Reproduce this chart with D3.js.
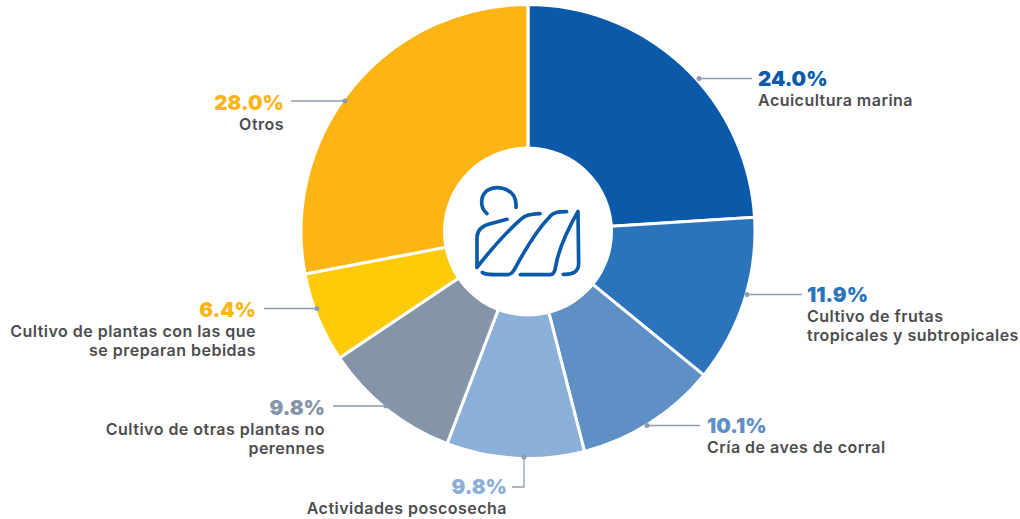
<!DOCTYPE html>
<meta charset="utf-8">
<style>
html, body { margin: 0; padding: 0; background: #fff; }
svg { display: block; }
text { font-family: 'Inter', sans-serif; }
.pct { font-size: 20.5px; font-weight: 900; }
.name { font-size: 16px; font-weight: 600; fill: #4d4d4f; letter-spacing: 0.48px; }
.leader { fill: none; stroke: #8e9db3; stroke-width: 1.3; }
.icon path { fill: none; stroke: #0b5aa9; stroke-width: 11; stroke-linecap: round; stroke-linejoin: round; }
</style>
<body>
<div id="chart"></div>
<script src="https://cdn.jsdelivr.net/npm/d3@7"></script>
<script>
var categories = [
  ['Acuicultura marina'],
  ['Cultivo de frutas', 'tropicales y subtropicales'],
  ['Cría de aves de corral'],
  ['Actividades poscosecha'],
  ['Cultivo de otras plantas no', 'perennes'],
  ['Cultivo de plantas con las que', 'se preparan bebidas'],
  ['Otros']
];
var values = [24.0, 11.9, 10.1, 9.8, 9.8, 6.4, 28.0];
var sliceColors = ['#0b5aa9', '#2b74bb', '#5f90c5', '#8aafd8', '#8494a9', '#ffcb08', '#fdb515'];
var pctColors = ['#0b5aa9', '#2b74bb', '#5f90c5', '#8aafd8', '#8494a9', '#fdb515', '#fdb515'];

// label placement: x/y = percent baseline, pts = leader line
var labelPos = [
  {x: 758, y: 86, anchor: 'start', pts: [[699, 78.5], [752, 78.5]]},
  {x: 807, y: 302, anchor: 'start', pts: [[747, 294.5], [802, 294.5]]},
  {x: 707, y: 433, anchor: 'start', pts: [[647, 425.5], [700, 425.5]]},
  {x: 507, y: 494, anchor: 'end', pts: [[524, 457], [524, 487], [512, 487]]},
  {x: 325, y: 415, anchor: 'end', pts: [[386, 406], [333, 406]]},
  {x: 256, y: 317, anchor: 'end', pts: [[317, 308.5], [264, 308.5]]},
  {x: 284, y: 110, anchor: 'end', pts: [[345, 101], [291, 101]]}
];

var svg = d3.select('#chart').append('svg')
  .attr('width', 1020)
  .attr('height', 519);

var pie = d3.pie().sort(null).value(function(d) { return d; });
var arc = d3.arc().innerRadius(0).outerRadius(227);

var g = svg.append('g').attr('transform', 'translate(528,231.5)');

g.selectAll('path.slice')
  .data(pie(values))
  .enter().append('path')
  .attr('class', 'slice')
  .attr('d', arc)
  .attr('fill', function(d, i) { return sliceColors[i]; })
  .attr('stroke', '#fff')
  .attr('stroke-width', 3);

g.append('circle').attr('r', 85).attr('fill', '#fff');

// centre icon
var icon = svg.append('g').attr('class', 'icon').attr('transform', 'translate(440,150)scale(0.3333)');
[
  'M141 191C118 172 120 133 146 119C172 106 205 114 221 137C227 147 229 160 228 172',
  'M201 208L148 222C125 228 112 240 111 262L111 352',
  'M111 352C160 290 205 240 245 206C255 197 265 193 300 191',
  'M127 367C135 374 150 374 200 374C215 374 220 365 228 350C260 290 295 235 332 197C342 188 352 185 380 185',
  'M241 374L330 374C340 374 345 365 347 350C355 300 385 235 414 184L416 340C416 365 400 374 370 373'
].forEach(function(p) { icon.append('path').attr('d', p); });

var line = d3.line();

labelPos.forEach(function(p, i) {
  svg.append('path').attr('class', 'leader').attr('d', line(p.pts));
  svg.append('circle').attr('cx', p.pts[0][0]).attr('cy', p.pts[0][1]).attr('r', 2.5).attr('fill', '#8e9db3');
  svg.append('text')
    .attr('class', 'pct')
    .attr('x', p.x).attr('y', p.y)
    .attr('text-anchor', p.anchor)
    .attr('fill', pctColors[i])
    .text(values[i].toFixed(1) + '%');
  categories[i].forEach(function(t, k) {
    svg.append('text')
      .attr('class', 'name')
      .attr('x', p.x).attr('y', p.y + 20 + k * 19)
      .attr('text-anchor', p.anchor)
      .text(t);
  });
});
</script>
</body>
